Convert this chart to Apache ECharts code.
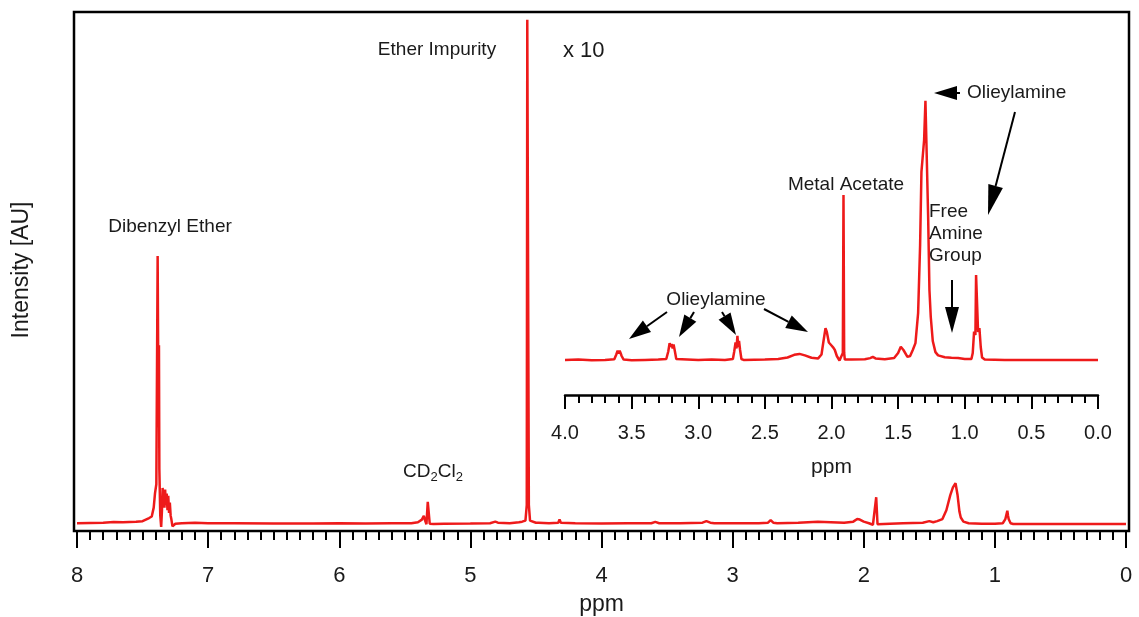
<!DOCTYPE html>
<html>
<head>
<meta charset="utf-8">
<script src="https://cdn.jsdelivr.net/npm/echarts@6/dist/echarts.min.js"></script>
<style>
html,body{margin:0;padding:0;background:#fff;}
#chart{width:1139px;height:617px;}
</style>
</head>
<body>
<div id="chart"></div>
<script>
// ---- Data (ppm, intensity) ----
const mainPpm = [8.0,7.9,7.8,7.72,7.65,7.55,7.5,7.45,7.43,7.415,7.405,7.395,7.385,7.378,7.375,7.372,7.365,7.358,7.355,7.352,7.347,7.343,7.338,7.333,7.328,7.322,7.316,7.31,7.304,7.298,7.292,7.286,7.28,7.272,7.262,7.25,7.2,7.1,7.0,6.8,6.5,6.2,6.0,5.8,5.6,5.45,5.4,5.37,5.355,5.345,5.335,5.325,5.318,5.31,5.3,5.28,5.2,5.0,4.85,4.81,4.8,4.79,4.7,4.63,4.615,4.605,4.58,4.57,4.566,4.562,4.558,4.554,4.545,4.53,4.5,4.49,4.48,4.4,4.33,4.32,4.31,4.2,4.0,3.8,3.62,3.59,3.56,3.4,3.23,3.2,3.17,3.14,3.0,2.8,2.73,2.71,2.69,2.66,2.5,2.35,2.25,2.15,2.08,2.05,2.03,2.0,1.96,1.93,1.915,1.905,1.895,1.88,1.8,1.7,1.55,1.5,1.47,1.44,1.4,1.37,1.34,1.32,1.3,1.285,1.27,1.26,1.24,1.2,1.1,1.0,0.94,0.92,0.905,0.9,0.895,0.88,0.86,0.8,0.6,0.4,0.2,0.0];
const mainInt = [1.5,1.55,1.6,1.75,1.7,1.8,1.9,2.5,2.8,4.5,7.3,9,53,20,35.8,12,3,0.8,0.5,4,8.3,6,7.5,4.5,8.0,5,7.2,4,6.8,3.5,5.5,3,2.2,0.9,1.1,1.4,1.5,1.6,1.5,1.5,1.45,1.45,1.5,1.45,1.5,1.5,1.7,2.2,2.9,2.0,1.3,5.6,5.7,1.4,1.3,1.35,1.4,1.45,1.5,1.8,2.1,1.6,1.5,1.7,2.0,1.8,2.0,5,98.5,98.5,98.5,5,2.0,1.7,1.6,1.9,1.6,1.5,1.6,2.2,1.6,1.5,1.45,1.5,1.5,1.75,1.5,1.5,1.6,1.9,1.6,1.5,1.5,1.5,1.6,2.1,1.6,1.5,1.6,1.8,1.7,1.6,1.8,2.3,2.2,1.8,1.5,1.2,1.3,6.5,1.3,1.35,1.4,1.5,1.6,1.9,1.7,1.9,2.3,4.0,6.9,8.4,9.2,7.0,3.7,2.6,1.8,1.5,1.4,1.4,1.5,2.3,3.9,3.0,2.3,1.5,1.35,1.35,1.35,1.35,1.35,1.35];

const insetPpm = [4.0,3.9,3.8,3.7,3.63,3.615,3.605,3.597,3.59,3.583,3.575,3.56,3.5,3.4,3.3,3.24,3.225,3.215,3.207,3.2,3.192,3.185,3.175,3.165,3.15,3.0,2.9,2.8,2.74,2.73,2.72,2.713,2.706,2.7,2.694,2.686,2.676,2.66,2.5,2.4,2.33,2.28,2.24,2.2,2.15,2.1,2.075,2.06,2.045,2.035,2.02,2.0,1.985,1.975,1.96,1.94,1.925,1.915,1.91,1.905,1.9,1.85,1.75,1.71,1.69,1.67,1.6,1.53,1.5,1.48,1.46,1.43,1.41,1.39,1.37,1.35,1.335,1.325,1.315,1.305,1.295,1.285,1.275,1.265,1.255,1.24,1.22,1.2,1.15,1.1,1.05,1.0,0.95,0.94,0.93,0.92,0.915,0.905,0.9,0.89,0.88,0.87,0.85,0.7,0.5,0.3,0.0];
const insetInt = [11.7,11.8,11.6,11.7,11.9,13.5,14.8,13.8,14.8,14.0,13,11.8,11.6,11.7,11.8,12.0,14.5,17.3,16,17.0,15.5,16.8,14.5,12,11.7,11.7,11.8,11.7,12,14.5,17.5,15.5,19.7,16,18,15,12,11.7,11.8,12.0,12.5,13.4,13.7,13.2,12.4,12.2,13.5,18,22.3,21,17.5,16.5,15.7,15.0,13,11.5,11.2,14,66.7,14,11.8,11.8,11.9,12.3,12.7,12.2,11.9,12.3,14,16.1,15,12.7,13,15,17.3,27.3,50,74.4,75,85,98.1,98.1,60,35,26,18,14.3,13.2,12.6,12.4,12.3,12.0,12.0,14,21.1,20,40,40,21,22.3,16,12.5,11.8,11.7,11.7,11.7,11.7];

const mainTicks = [0,1,2,3,4,5,6,7,8];
const insetTicks = [0.0,0.5,1.0,1.5,2.0,2.5,3.0,3.5,4.0];

// ---- Chart ----
const RED = '#ee1a1a';
const FONT = '"Liberation Sans", Arial, sans-serif';
const INK = '#1a1a1a';
const chart = echarts.init(document.getElementById('chart'), null, {renderer: 'canvas'});

function arrow(x1, y1, x2, y2, len, hw) {
  const dx = x2 - x1, dy = y2 - y1, d = Math.sqrt(dx*dx + dy*dy);
  const ux = dx / d, uy = dy / d;
  const bx = x2 - ux*len, by = y2 - uy*len;
  const px = -uy*hw, py = ux*hw;
  return [
    {type:'polyline', shape:{points:[[x1,y1],[bx,by]]}, style:{stroke:'#000', lineWidth:2}, z:10},
    {type:'polygon', shape:{points:[[x2,y2],[bx+px,by+py],[bx-px,by-py]]}, style:{fill:'#000'}, z:10}
  ];
}
function txt(t, x, y, size, align) {
  return {type:'text', z:10, style:{text:t, x:x, y:y, font: size + 'px ' + FONT, fill:INK, textAlign: align || 'center', textVerticalAlign:'middle'}};
}

const graphics = [
  {type:'rect', shape:{x:74, y:12, width:1055, height:519}, style:{fill:'none', stroke:'#000', lineWidth:2.5}, z:5},
  {type:'text', z:10, rotation: Math.PI/2, x:22, y:270, style:{text:'Intensity [AU]', x:0, y:0, font:'23px ' + FONT, fill:INK, textAlign:'center', textVerticalAlign:'middle'}},
  txt('Dibenzyl Ether', 170, 227, 19),
  txt('Ether Impurity', 437, 50, 19),
  txt('x 10', 563, 51, 22, 'left'),
  {type:'text', z:10, style:{text:'{n|CD}{s|2}{n|Cl}{s|2}', x:433, y:472, textAlign:'center', textVerticalAlign:'middle', fill:INK,
     rich:{n:{fontSize:19, fontFamily:FONT, fill:INK}, s:{fontSize:13, fontFamily:FONT, fill:INK, padding:[10,0,0,0]}}}},
  txt('Metal Acetate', 846, 185, 19),
  txt('Olieylamine', 967, 93, 19, 'left'),
  txt('Free', 929, 212, 19, 'left'),
  txt('Amine', 929, 234, 19, 'left'),
  txt('Group', 929, 256, 19, 'left'),
  txt('Olieylamine', 716, 300, 19)
].concat(
  arrow(960, 93, 934, 93, 23, 7),
  arrow(1015, 112, 988, 215, 30, 7.5),
  arrow(952, 280, 952, 333, 26, 7),
  arrow(667, 312, 629, 339, 22, 7),
  arrow(694, 312, 679, 337, 22, 7),
  arrow(722, 312, 736, 335, 22, 7),
  arrow(764, 309, 808, 332, 22, 7)
);

const option = {
  animation: false,
  backgroundColor: '#fff',
  grid: [
    {left: 77, width: 1049, top: 12, height: 519, outerBoundsMode: 'none', containLabel: false},
    {left: 565, width: 533, top: 95, height: 300, outerBoundsMode: 'none', containLabel: false}
  ],
  xAxis: [
    {type:'value', gridIndex:0, min:0, max:8, interval:1, inverse:true,
     axisLine:{show:false}, splitLine:{show:false},
     axisTick:{show:true, length:17, inside:false, lineStyle:{color:'#000', width:2}},
     minorTick:{show:true, splitNumber:10, length:9, lineStyle:{color:'#000', width:2}},
     axisLabel:{margin:34, fontSize:22, color:INK, fontFamily:FONT, formatter: v => mainTicks.indexOf(v) >= 0 ? String(v) : ''},
     name:'ppm', nameLocation:'middle', nameGap:62, nameTextStyle:{fontSize:23, color:INK, fontFamily:FONT}},
    {type:'value', gridIndex:1, min:0, max:4, interval:0.5, inverse:true,
     axisLine:{show:true, onZero:false, lineStyle:{color:'#000', width:2.5}}, splitLine:{show:false},
     axisTick:{show:true, length:14, inside:false, lineStyle:{color:'#000', width:2}},
     minorTick:{show:true, splitNumber:5, length:8, lineStyle:{color:'#000', width:2}},
     axisLabel:{margin:28, fontSize:20, color:INK, fontFamily:FONT, formatter: v => v.toFixed(1)},
     name:'ppm', nameLocation:'middle', nameGap:62, nameTextStyle:{fontSize:21, color:INK, fontFamily:FONT}}
  ],
  yAxis: [
    {type:'value', gridIndex:0, min:0, max:100, show:false},
    {type:'value', gridIndex:1, min:0, max:100, show:false}
  ],
  series: [
    {type:'line', xAxisIndex:0, yAxisIndex:0, showSymbol:false, symbol:'none',
     lineStyle:{color:RED, width:2.5}, data: mainPpm.map((p,i)=>[p, mainInt[i]]), z:3},
    {type:'line', xAxisIndex:1, yAxisIndex:1, showSymbol:false, symbol:'none',
     lineStyle:{color:RED, width:2.5}, data: insetPpm.map((p,i)=>[p, insetInt[i]]), z:3}
  ],
  graphic: graphics
};
chart.setOption(option);
</script>
</body>
</html>
